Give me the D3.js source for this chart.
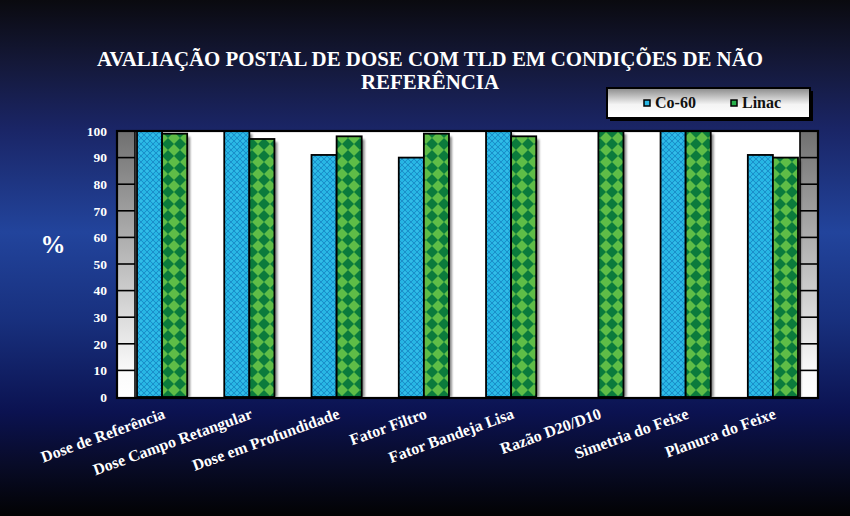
<!doctype html>
<html>
<head>
<meta charset="utf-8">
<script src="https://d3js.org/d3.v7.min.js"></script>
<style>
  body { margin: 0; background: #000; }
  svg { display: block; }
  text { font-family: "Liberation Serif", "Times New Roman", serif; font-weight: bold; }
</style>
</head>
<body>
<svg width="850" height="516"></svg>
<script>
// data
var categories = ["Dose de Referência", "Dose Campo Retangular", "Dose em Profundidade",
  "Fator Filtro", "Fator Bandeja Lisa", "Razão D20/D10", "Simetria do Feixe", "Planura do Feixe"];
var seriesNames = ["Co-60", "Linac"];
var co60 = [100, 100, 91, 90, 100, 0, 100, 91];
var linac = [99, 97, 98, 99, 98, 100, 100, 90];
var yTicks = [0, 10, 20, 30, 40, 50, 60, 70, 80, 90, 100];

var svg = d3.select("svg");
var defs = svg.append("defs");

// background gradient
var bg = defs.append("linearGradient").attr("id", "bg")
  .attr("x1", 0).attr("y1", 0).attr("x2", 0).attr("y2", 1);
[[0, "#0a0a0f"], [0.12, "#141838"], [0.25, "#1a2566"], [0.45, "#22449c"],
 [0.62, "#18307e"], [0.8, "#0b1250"], [0.9, "#080b28"], [1, "#020203"]]
  .forEach(function(s) { bg.append("stop").attr("offset", s[0]).attr("stop-color", s[1]); });

// wall gradient
var wall = defs.append("linearGradient").attr("id", "wall")
  .attr("x1", 0).attr("y1", 0).attr("x2", 0).attr("y2", 1);
wall.append("stop").attr("offset", 0).attr("stop-color", "#707070");
wall.append("stop").attr("offset", 0.9).attr("stop-color", "#fafafa");
wall.append("stop").attr("offset", 1).attr("stop-color", "#ffffff");

// legend gradient
var lg = defs.append("linearGradient").attr("id", "leg")
  .attr("x1", 0).attr("y1", 0).attr("x2", 0).attr("y2", 1);
lg.append("stop").attr("offset", 0).attr("stop-color", "#8a8a8a");
lg.append("stop").attr("offset", 0.55).attr("stop-color", "#f4f4f4");
lg.append("stop").attr("offset", 1).attr("stop-color", "#ffffff");

// Co-60 pattern: cyan with small lattice
var pc = defs.append("pattern").attr("id", "pCo").attr("patternUnits", "userSpaceOnUse")
  .attr("width", 6).attr("height", 6);
pc.append("rect").attr("width", 6).attr("height", 6).attr("fill", "#27b6e4");
pc.append("path").attr("d", "M0,3 L3,0 L6,3 L3,6 Z").attr("fill", "none")
  .attr("stroke", "#1b8fc9").attr("stroke-width", 1);
pc.append("rect").attr("x", 2.5).attr("y", 2.5).attr("width", 1).attr("height", 1).attr("fill", "#5ad0f0");

// Linac pattern: diamond checker
var pl = defs.append("pattern").attr("id", "pLi").attr("patternUnits", "userSpaceOnUse")
  .attr("width", 12).attr("height", 12).attr("x", 0).attr("y", 0);
pl.append("rect").attr("width", 12).attr("height", 12).attr("fill", "#0b7b3c");
pl.append("path").attr("d", "M6,0 L12,6 L6,12 L0,6 Z").attr("fill", "#5fbd47");

var fills = ["url(#pCo)", "url(#pLi)"];
var swatch = ["#27b6e4", "#27b04a"];

var blur = defs.append("filter").attr("id", "sh");
blur.append("feGaussianBlur").attr("stdDeviation", 0.8);

svg.append("rect").attr("width", 850).attr("height", 516).attr("fill", "url(#bg)");

// plot geometry
var pLeft = 117, pRight = 818, pTop = 131, pBottom = 397, wallW = 19;

var y = d3.scaleLinear().domain([0, 100]).range([pBottom, pTop]);
var x = d3.scaleBand().domain(categories).range([pLeft + 20, pRight - 20])
  .paddingInner(0.425).paddingOuter(0);
var xs = d3.scaleBand().domain(seriesNames).range([0, x.bandwidth()]);

// plot background
svg.append("rect").attr("x", pLeft).attr("y", pTop).attr("width", pRight - pLeft)
  .attr("height", pBottom - pTop).attr("fill", "#fff");

// side walls
[pLeft, pRight - wallW + 1].forEach(function(wx) {
  svg.append("rect").attr("x", wx).attr("y", pTop).attr("width", wallW - 1)
    .attr("height", pBottom - pTop).attr("fill", "url(#wall)");
  svg.append("g").selectAll("line").data(yTicks.slice(1, -1)).enter().append("line")
    .attr("x1", wx).attr("x2", wx + wallW - 1)
    .attr("y1", function(d) { return y(d); }).attr("y2", function(d) { return y(d); })
    .attr("stroke", "#000").attr("stroke-width", 1.6);
  var ex = wx === pLeft ? wx + wallW - 1 : wx;
  svg.append("line").attr("x1", ex).attr("x2", ex)
    .attr("y1", pTop).attr("y2", pBottom).attr("stroke", "#000").attr("stroke-width", 1.6);
});

// bars
var rows = [];
categories.forEach(function(c, i) {
  rows.push({ cat: c, s: 0, v: co60[i] });
  rows.push({ cat: c, s: 1, v: linac[i] });
});
rows = rows.filter(function(d) { return d.v > 0; });

function bx(d) { return x(d.cat) + xs(seriesNames[d.s]); }

svg.append("g").selectAll("rect").data(rows).enter().append("rect")
  .attr("x", function(d) { return bx(d) + 3; })
  .attr("y", function(d) { return y(d.v) + 3; })
  .attr("width", xs.bandwidth())
  .attr("height", function(d) { return pBottom - y(d.v) - 3; })
  .attr("fill", "#000").attr("opacity", 0.45).attr("filter", "url(#sh)");

svg.append("g").selectAll("rect").data(rows).enter().append("rect")
  .attr("x", bx)
  .attr("y", function(d) { return y(d.v); })
  .attr("width", xs.bandwidth())
  .attr("height", function(d) { return pBottom - y(d.v); })
  .attr("fill", function(d) { return fills[d.s]; })
  .attr("stroke", "#000").attr("stroke-width", 1.8);

// plot frame
svg.append("rect").attr("x", pLeft).attr("y", pTop).attr("width", pRight - pLeft)
  .attr("height", pBottom - pTop + 1).attr("fill", "none")
  .attr("stroke", "#000").attr("stroke-width", 2.2);

// y axis
var yAxis = svg.append("g").attr("transform", "translate(107,0)")
  .call(d3.axisLeft(y).tickValues(yTicks).tickSize(0).tickPadding(0));
yAxis.select(".domain").remove();
yAxis.selectAll("text").attr("fill", "#fff").style("font-size", "13.5px")
  .style("font-family", "Liberation Serif").style("font-weight", "bold");

svg.append("text").attr("x", 53).attr("y", 253).attr("text-anchor", "middle")
  .attr("fill", "#fff").style("font-size", "25px").text("%");

// x labels
svg.append("g").selectAll("text").data(categories).enter().append("text")
  .attr("transform", function(d) {
    return "translate(" + (x(d) + x.bandwidth() / 2 + 4) + ",418) rotate(-20)";
  })
  .attr("text-anchor", "end").attr("fill", "#fff").style("font-size", "16px")
  .text(function(d) { return d; });

// title
svg.append("text").attr("x", 430).attr("y", 66).attr("text-anchor", "middle")
  .attr("fill", "#fff").style("font-size", "21px")
  .attr("textLength", 666).attr("lengthAdjust", "spacingAndGlyphs")
  .text("AVALIAÇÃO POSTAL DE DOSE COM TLD EM CONDIÇÕES DE NÃO");
svg.append("text").attr("x", 430).attr("y", 89).attr("text-anchor", "middle")
  .attr("fill", "#fff").style("font-size", "21px")
  .attr("textLength", 138).attr("lengthAdjust", "spacingAndGlyphs")
  .text("REFERÊNCIA");

// legend
var leg = svg.append("g").attr("transform", "translate(607,88)");
leg.append("rect").attr("x", 3).attr("y", 3).attr("width", 203).attr("height", 30).attr("fill", "#000");
leg.append("rect").attr("width", 203).attr("height", 30).attr("fill", "url(#leg)")
  .attr("stroke", "#000").attr("stroke-width", 2);
var items = leg.selectAll("g.it").data(seriesNames).enter().append("g")
  .attr("transform", function(d, i) { return "translate(" + (37 + i * 87) + ",0)"; });
items.append("rect").attr("x", 0).attr("y", 12).attr("width", 6).attr("height", 6)
  .attr("fill", function(d, i) { return swatch[i]; }).attr("stroke", "#000").attr("stroke-width", 1.5);
items.append("text").attr("x", 11).attr("y", 20).attr("fill", "#111").style("font-size", "16px")
  .text(function(d) { return d; });
</script>
</body>
</html>
